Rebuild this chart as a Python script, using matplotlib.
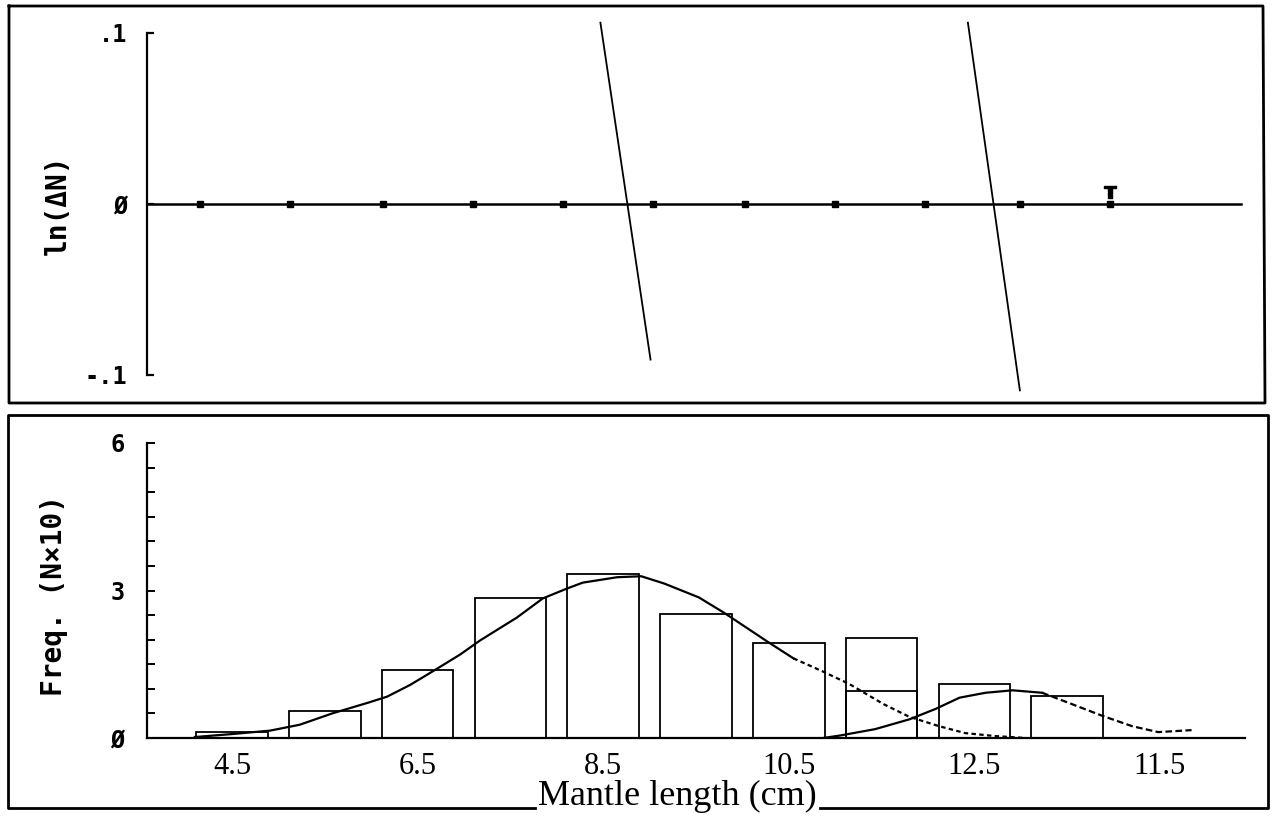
import matplotlib.pyplot as plt
from matplotlib.lines import Line2D
from matplotlib.ticker import MultipleLocator

W, H = 1273, 818

# bottom panel: length-frequency histogram (N x 10)
bin_mid = [4.5, 5.5, 6.5, 7.5, 8.5, 9.5, 10.5, 11.5, 12.5, 13.5]
freq = [0.12, 0.55, 1.38, 2.85, 3.33, 2.53, 1.94, 2.04, 1.10, 0.86]
resid_mid = [11.5]
resid_freq = [0.96]

# fitted components
comp1_x = [4.10, 4.50, 4.91, 5.23, 5.58, 5.97, 6.17, 6.42, 6.71, 6.96, 7.17, 7.57, 7.85,
           8.11, 8.28, 8.65, 8.91, 9.16, 9.53, 9.80, 10.27, 10.55, 10.87, 11.15, 11.52,
           11.80, 12.12, 12.40, 12.72, 13.05]
comp1_y = [0.02, 0.08, 0.15, 0.27, 0.50, 0.72, 0.84, 1.08, 1.41, 1.70, 1.98, 2.45, 2.84,
           3.04, 3.16, 3.27, 3.29, 3.14, 2.86, 2.55, 1.96, 1.62, 1.35, 1.10, 0.69,
           0.43, 0.24, 0.10, 0.04, 0.00]
comp1_solid = 21

comp2_x = [10.87, 11.05, 11.43, 11.80, 12.08, 12.34, 12.62, 12.91, 13.23, 13.55, 13.88,
           14.20, 14.48, 14.84]
comp2_y = [0.00, 0.05, 0.18, 0.38, 0.59, 0.82, 0.92, 0.97, 0.92, 0.69, 0.45,
           0.24, 0.12, 0.16]
comp2_solid = 8

# top panel: ln(delta N) points and regression lines
dn_x = [4.15, 5.13, 6.13, 7.10, 8.07, 9.04, 10.03, 11.00, 11.97, 12.99, 13.96]
dn_y = [0, 0, 0, 0, 0, 0, 0, 0, 0, 0, 0]
sel_x = [13.96]
sel_y = [0.007]
reg1_x = [8.47, 9.01]
reg1_y = [0.106, -0.091]
reg2_x = [12.43, 12.99]
reg2_y = [0.106, -0.109]

xticks = [4.5, 6.5, 8.5, 10.5, 12.5, 14.5]
xticklabels = ['4.5', '6.5', '8.5', '10.5', '12.5', '11.5']

mono = 'DejaVu Sans Mono'
serif = 'Liberation Serif'


def box(x0, y0, x1, y1):
    return [x0 / W, 1 - y1 / H, (x1 - x0) / W, (y1 - y0) / H]


def fline(xs, ys, **kw):
    fig.add_artist(Line2D([x / W for x in xs], [1 - y / H for y in ys],
                          transform=fig.transFigure, color='black', **kw))


fig = plt.figure(figsize=(W / 100, H / 100), dpi=100)

# ---- top panel
ax1 = fig.add_axes(box(147, 15, 1245, 395))
ax1.set_xlim(3.584, 15.416)
ax1.set_ylim(-0.1117, 0.1105)
ax1.axhline(0, xmax=0.996, color='black', lw=1.8)
ax1.plot(dn_x, dn_y, 's', color='black', ms=4.5)
ax1.plot(sel_x, sel_y, marker=r'$\mathbf{T}$', color='black', ms=9, ls='none')
ax1.plot(reg1_x, reg1_y, color='black', lw=1.3, clip_on=False)
ax1.plot(reg2_x, reg2_y, color='black', lw=1.3, clip_on=False)
for s in ['top', 'right', 'bottom']:
    ax1.spines[s].set_visible(False)
ax1.spines['left'].set_bounds(-0.1, 0.1)
ax1.spines['left'].set_linewidth(1.6)
ax1.set_xticks([])
ax1.set_yticks([0.1, 0, -0.1])
ax1.set_yticklabels(['.1', 'Ø', '-.1'], fontfamily=mono, fontweight='bold', fontsize=17)
ax1.tick_params(axis='y', direction='in', length=5, width=1.6, pad=14)
ax1.patch.set_alpha(0)

# ---- bottom panel
ax2 = fig.add_axes(box(147, 443, 1245, 738))
ax2.set_xlim(3.584, 15.416)
ax2.set_ylim(0, 6)
ax2.bar(bin_mid, freq, width=0.77, fill=False, edgecolor='black', lw=1.3)
ax2.bar(resid_mid, resid_freq, width=0.77, fill=False, edgecolor='black', lw=1.3)
ax2.plot(comp1_x[:comp1_solid + 1], comp1_y[:comp1_solid + 1], color='black', lw=1.6)
ax2.plot(comp1_x[comp1_solid:], comp1_y[comp1_solid:], color='black', lw=1.6, ls=(0, (2, 1.5)))
ax2.plot(comp2_x[:comp2_solid + 1], comp2_y[:comp2_solid + 1], color='black', lw=1.6)
ax2.plot(comp2_x[comp2_solid:], comp2_y[comp2_solid:], color='black', lw=1.6, ls=(0, (3, 1.5)))
for s in ['top', 'right']:
    ax2.spines[s].set_visible(False)
ax2.spines['left'].set_linewidth(1.6)
ax2.spines['bottom'].set_linewidth(1.6)
ax2.set_xticks(xticks)
ax2.set_xticklabels(xticklabels, fontfamily=serif, fontsize=22)
ax2.tick_params(axis='x', length=0, pad=10)
ax2.set_yticks([0, 3, 6])
ax2.set_yticklabels(['Ø', '3', '6'], fontfamily=mono, fontweight='bold', fontsize=17)
ax2.yaxis.set_minor_locator(MultipleLocator(0.5))
ax2.tick_params(axis='y', which='both', direction='in', length=6, width=1.4, pad=16)
ax2.patch.set_alpha(0)

# axis titles
fig.text(58 / W, 1 - 205 / H, 'ln(ΔN)', rotation=90, ha='center', va='center',
         fontfamily=mono, fontweight='bold', fontsize=20)
fig.text(54 / W, 1 - 595 / H, 'Freq. (N×10)', rotation=90, ha='center', va='center',
         fontfamily=mono, fontweight='bold', fontsize=20)
fig.text(677 / W, 1 - 805 / H, 'Mantle length (cm)', ha='center', va='baseline',
         fontfamily=serif, fontsize=26)

# frames around the two panels
fline([9, 1263, 1265, 9, 9], [6, 6, 403, 403, 6], lw=2)
fline([535, 8, 8, 1268, 1268, 820], [808, 808, 415, 415, 808, 808], lw=2)

fig.savefig('out.png', dpi=100)
